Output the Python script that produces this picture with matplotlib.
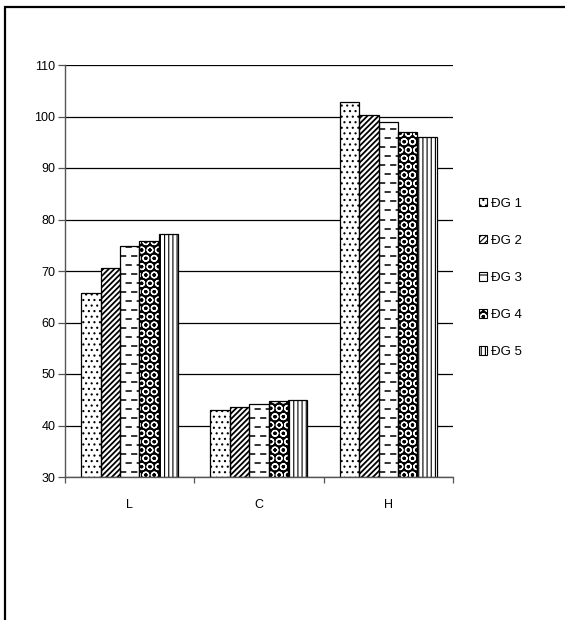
import numpy as np
from matplotlib import pyplot as plt
import matplotlib.patches as mpatches

plt.rcParams['font.family'] = ['Liberation Sans Narrow', 'Liberation Sans', 'DejaVu Sans']
plt.rcParams['lines.scale_dashes'] = False

categories = ['L', 'C', 'H']
series = ['ĐG 1', 'ĐG 2', 'ĐG 3', 'ĐG 4', 'ĐG 5']
values = {
    'ĐG 1': [65.7, 43.1, 102.9],
    'ĐG 2': [70.5, 43.6, 100.3],
    'ĐG 3': [74.9, 44.1, 98.9],
    'ĐG 4': [75.9, 44.8, 96.9],
    'ĐG 5': [77.2, 45.0, 96.0],
}
yticks = [30, 40, 50, 60, 70, 80, 90, 100, 110]

# fill style per series: (facecolor, hatch colour, hatch, hatch linewidth)
styles = {
    'ĐG 1': ('white', 'black', '...', 0.8),
    'ĐG 2': ('white', 'black', '//////', 1.3),
    'ĐG 3': ('white', 'black', '', 0.8),
    'ĐG 4': ('black', 'white', 'OO', 0.9),
    'ĐG 5': ('white', 'black', '||||', 0.8),
}

fig = plt.figure(figsize=(5.65, 6.2), dpi=100)
# outer frame (cut off at right and bottom)
fig.patches.append(mpatches.Rectangle((5 / 565, -0.1), 1.2, 1 - 7 / 620 + 0.1,
                                      transform=fig.transFigure, fill=False,
                                      edgecolor='black', linewidth=1.6))

ax = fig.add_axes([65 / 565, 1 - 477 / 620, 388 / 565, 412 / 620])

x = np.arange(len(categories))
width = 0.15
for i, s in enumerate(series):
    fc, hc, hatch, hlw = styles[s]
    pos = x + (i - 2) * width
    plt.rcParams['hatch.linewidth'] = hlw
    fills = ax.bar(pos, np.array(values[s]) - 30, width, bottom=30, color=fc,
                   edgecolor=hc, linewidth=0, hatch=hatch, zorder=3)
    ax.bar(pos, np.array(values[s]) - 30, width, bottom=30, fill=False,
           edgecolor='black', linewidth=0.9, zorder=4)
    if s == 'ĐG 3':
        # short staggered dashes inside the bars
        for rect in fills:
            x0, x1 = rect.get_x(), rect.get_x() + rect.get_width()
            for k, yy in enumerate(np.arange(31.0, rect.get_y() + rect.get_height(), 1.75)):
                ln, = ax.plot([x0, x1], [yy, yy], color='#222222', linewidth=1.3,
                              linestyle=((k % 2) * 4, (4.5, 3.5)), zorder=3.5)
                ln.set_clip_path(rect)

ax.set_xlim(-0.5, 2.5)
ax.set_ylim(30, 110)
ax.set_yticks(yticks)
ax.set_yticklabels([str(v) for v in yticks], fontsize=9)
ax.grid(axis='y', color='black', linewidth=0.9, zorder=0)
ax.set_axisbelow(True)

ax.set_xticks(x)
ax.set_xticklabels(categories, fontsize=9)
ax.set_xticks([-0.5, 0.5, 1.5, 2.5], minor=True)
ax.tick_params(axis='x', which='major', length=0, pad=16)
ax.tick_params(axis='x', which='minor', length=4, color='#555555', width=0.9)
ax.tick_params(axis='y', length=5, color='#555555', width=0.9, pad=2)

for side in ['top', 'right']:
    ax.spines[side].set_visible(False)
for side in ['left', 'bottom']:
    ax.spines[side].set_color('#555555')
    ax.spines[side].set_linewidth(1.0)
ax.spines['bottom'].set_zorder(5)

# legend keys: hatched fill with a black outline on top
handles = []
for s in series:
    fc, hc, hatch, hlw = styles[s]
    plt.rcParams['hatch.linewidth'] = hlw
    fill = mpatches.Patch(facecolor=fc, edgecolor=hc, hatch=hatch if hatch else '-',
                          linewidth=0)
    outline = mpatches.Patch(fill=False, edgecolor='black', linewidth=0.8)
    handles.append((fill, outline))
fig.legend(handles=handles, labels=series, loc='center left',
           bbox_to_anchor=(472 / 565, 1 - 278 / 620), frameon=False,
           fontsize=9.5, handlelength=0.6, handleheight=0.6, handletextpad=0.35,
           labelspacing=1.9, borderpad=0)

plt.savefig('out.png', dpi=100)
